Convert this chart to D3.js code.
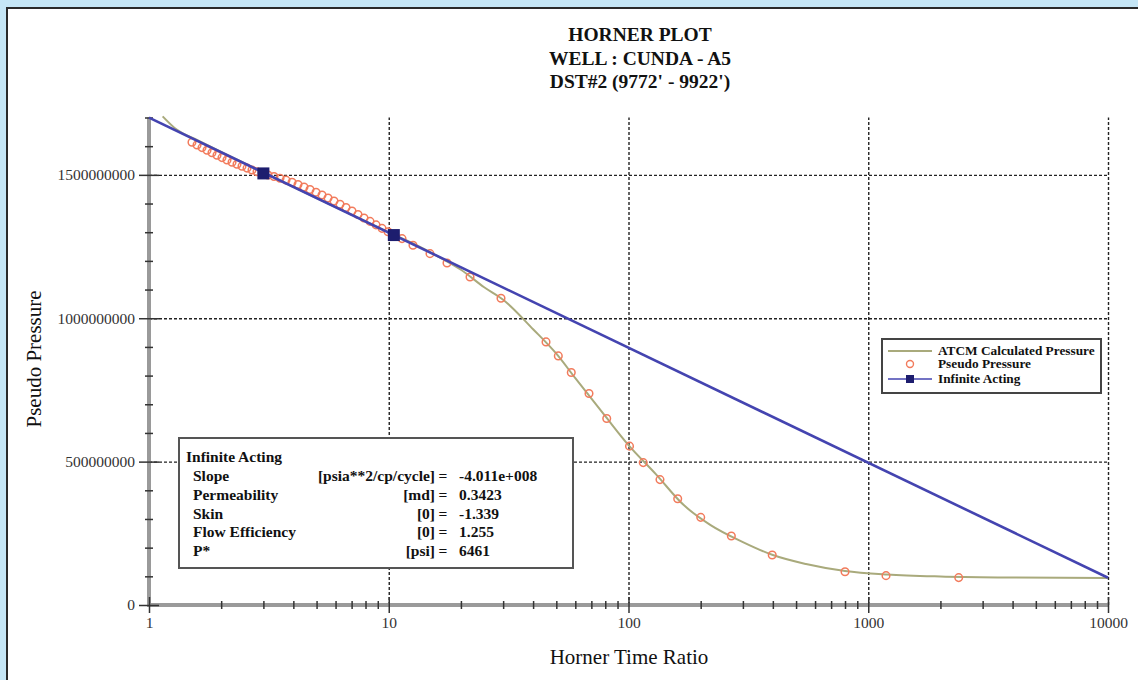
<!DOCTYPE html>
<html>
<head>
<meta charset="utf-8">
<script src="https://cdn.jsdelivr.net/npm/d3@7"></script>
<style>
body { margin: 0; background: #c5e6f6; }
text { font-family: "Liberation Serif", "Times New Roman", serif; }
</style>
</head>
<body>
<div id="chart"></div>
<script>
var svgWidth = 1138;
var svgHeight = 680;

// titles
var titleLines = ["HORNER PLOT", "WELL : CUNDA - A5", "DST#2 (9772' - 9922')"];
var xTitle = "Horner Time Ratio";
var yTitle = "Pseudo Pressure";

// tick labels
var xTickValues = [1, 10, 100, 1000, 10000];
var xTickLabels = ["1", "10", "100", "1000", "10000"];
var yTickValues = [0, 500000000, 1000000000, 1500000000];
var yTickLabels = ["0", "500000000", "1000000000", "1500000000"];

// pseudo pressure (measured points)
var ppRatio = [1.511, 1.586, 1.664, 1.746, 1.831, 1.921, 2.016, 2.115, 2.220, 2.328,
    2.443, 2.564, 2.689, 2.821, 2.960, 3.135, 3.322, 3.519, 3.728, 3.950,
    4.183, 4.432, 4.694, 4.973, 5.268, 5.580, 5.910, 6.262, 6.633, 7.025,
    7.441, 7.885, 8.353, 8.848, 9.372, 9.929, 10.62, 11.36, 12.62, 14.86,
    17.50, 21.83, 29.39, 45.29, 50.96, 57.72, 68.43, 81.13, 100.97, 115.2,
    135.3, 160.4, 200.1, 268.5, 397.6, 800.0, 1186, 2384];
var ppValue = [1.6138e9, 1.6044e9, 1.5950e9, 1.5859e9, 1.5769e9, 1.5685e9, 1.5601e9, 1.5518e9, 1.5441e9, 1.5368e9,
    1.5302e9, 1.5235e9, 1.5169e9, 1.5110e9, 1.5054e9, 1.4996e9, 1.4941e9, 1.4882e9, 1.4817e9, 1.4744e9,
    1.4665e9, 1.4578e9, 1.4488e9, 1.4395e9, 1.4295e9, 1.4194e9, 1.4087e9, 1.3976e9, 1.3862e9, 1.3741e9,
    1.3619e9, 1.3498e9, 1.3377e9, 1.3256e9, 1.3134e9, 1.3017e9, 1.2882e9, 1.2777e9, 1.2543e9, 1.2254e9,
    1.1927e9, 1.1439e9, 1.0697e9, 9.174e8, 8.686e8, 8.108e8, 7.376e8, 6.505e8, 5.540e8, 4.965e8,
    4.373e8, 3.704e8, 3.056e8, 2.404e8, 1.742e8, 1.157e8, 1.024e8, 9.547e7];

// ATCM calculated pressure (model curve)
var calcRatio = [1.14, 1.3, 1.6, 2, 3, 5, 7, 10, 13, 16, 20, 25, 30, 40, 50, 60, 80, 100,
    130, 170, 220, 300, 400, 550, 800, 1200, 2000, 4000, 10000];
var calcValue = [1.7038e9, 1.6585e9, 1.6202e9, 1.5801e9, 1.5087e9, 1.4188e9, 1.3613e9, 1.2996e9, 1.2561e9, 1.2160e9,
    1.1690e9, 1.1080e9, 1.0645e9, 9.617e8, 8.763e8, 7.909e8, 6.585e8, 5.575e8,
    4.564e8, 3.484e8, 2.787e8, 2.195e8, 1.742e8, 1.429e8, 1.185e8, 1.063e8, 9.93e7, 9.58e7, 9.41e7];

// infinite acting straight line and its two picked points
var iaRatio = [1, 10000];
var iaValue = [1.6995e9, 9.51e7];
var iaPickRatio = [3.0, 10.5];
var iaPickValue = [1.505e9, 1.290e9];

// legend + results box
var legendNames = ["ATCM Calculated Pressure", "Pseudo Pressure", "Infinite Acting"];
var infoTitle = "Infinite Acting";
var infoLabels = ["Slope", "Permeability", "Skin", "Flow Efficiency", "P*"];
var infoUnits = ["[psia**2/cp/cycle]", "[md]", "[0]", "[0]", "[psi]"];
var infoValues = ["-4.011e+008", "0.3423", "-1.339", "1.255", "6461"];

var plot = { left: 149, right: 1108, top: 117.5, bottom: 605 };

var svg = d3.select("#chart")
    .append("svg")
    .attr("width", svgWidth)
    .attr("height", svgHeight);

// white panel
svg.append("rect")
    .attr("x", 7).attr("y", 8)
    .attr("width", 1145).attr("height", 690)
    .attr("fill", "#fff")
    .attr("stroke", "#2a2a2a")
    .attr("stroke-width", 2);

var xScale = d3.scaleLog()
    .domain([1, 10000])
    .range([plot.left, plot.right]);

var yScale = d3.scaleLinear()
    .domain([0, 1.7e9])
    .range([plot.bottom, plot.top]);

// titles
svg.selectAll(".title")
    .data(titleLines)
    .enter()
    .append("text")
    .attr("x", 640)
    .attr("y", (d, i) => 41 + i * 23.5)
    .attr("text-anchor", "middle")
    .attr("font-size", "19.5px")
    .attr("font-weight", "bold")
    .attr("fill", "#111")
    .text(d => d);

// grid lines
var gridX = svg.append("g")
    .attr("transform", `translate(0,${plot.bottom})`)
    .call(d3.axisBottom(xScale).tickValues([10, 100, 1000, 10000])
        .tickSize(-(plot.bottom - plot.top)).tickFormat(""));
var gridY = svg.append("g")
    .attr("transform", `translate(${plot.left},0)`)
    .call(d3.axisLeft(yScale).tickValues([500000000, 1000000000, 1500000000])
        .tickSize(-(plot.right - plot.left)).tickFormat(""));
[gridX, gridY].forEach(function(g) {
    g.select(".domain").remove();
    g.selectAll("line")
        .attr("stroke", "#222")
        .attr("stroke-width", 1.4)
        .attr("stroke-dasharray", "3,2");
});

// axis lines (thick grey)
svg.append("line")
    .attr("x1", plot.left).attr("x2", plot.left)
    .attr("y1", plot.top).attr("y2", plot.bottom + 2)
    .attr("stroke", "#9a9a9a").attr("stroke-width", 4);
svg.append("line")
    .attr("x1", plot.left - 2).attr("x2", plot.right)
    .attr("y1", plot.bottom).attr("y2", plot.bottom)
    .attr("stroke", "#9a9a9a").attr("stroke-width", 4);

// tick marks crossing the axes
function tickGroup(axis, transform, values, size) {
    var g = svg.append("g")
        .attr("transform", transform)
        .call(axis.tickValues(values).tickSize(size).tickFormat(""));
    g.select(".domain").remove();
    g.selectAll("line").attr("stroke", "#333").attr("stroke-width", 1.5);
}
var xMinor = xScale.ticks().filter(v => xTickValues.indexOf(v) < 0);
var yMinor = yScale.ticks(17).filter(v => yTickValues.indexOf(v) < 0);
tickGroup(d3.axisBottom(xScale), `translate(0,${plot.bottom - 8})`, xTickValues, 16);
tickGroup(d3.axisBottom(xScale), `translate(0,${plot.bottom - 4})`, xMinor, 8);
tickGroup(d3.axisLeft(yScale), `translate(${plot.left + 10},0)`, yTickValues, 20);
tickGroup(d3.axisLeft(yScale), `translate(${plot.left + 4},0)`, yMinor, 8);

// tick labels
var xLab = svg.append("g")
    .attr("transform", `translate(0,${plot.bottom})`)
    .call(d3.axisBottom(xScale).tickValues(xTickValues).tickSize(0).tickPadding(12)
        .tickFormat((d, i) => xTickLabels[i]));
var yLab = svg.append("g")
    .attr("transform", `translate(${plot.left},0)`)
    .call(d3.axisLeft(yScale).tickValues(yTickValues).tickSize(0).tickPadding(14)
        .tickFormat((d, i) => yTickLabels[i]));
[xLab, yLab].forEach(function(g) {
    g.select(".domain").remove();
    g.selectAll("text")
        .attr("font-family", "'Liberation Serif', serif")
        .attr("font-size", "15.5px")
        .attr("fill", "#333");
});

// axis titles
svg.append("text")
    .attr("x", 629).attr("y", 664)
    .attr("text-anchor", "middle")
    .attr("font-size", "21px")
    .attr("fill", "#111")
    .text(xTitle);
svg.append("text")
    .attr("transform", "translate(41,359) rotate(-90)")
    .attr("text-anchor", "middle")
    .attr("font-size", "21px")
    .attr("fill", "#111")
    .text(yTitle);

// ATCM calculated pressure
var calcLine = d3.line()
    .x((d, i) => xScale(calcRatio[i]))
    .y((d, i) => yScale(calcValue[i]))
    .curve(d3.curveMonotoneX);
svg.append("path")
    .attr("d", calcLine(calcRatio))
    .attr("fill", "none")
    .attr("stroke", "#a9aa7c")
    .attr("stroke-width", 2);

// pseudo pressure points
svg.selectAll(".pp")
    .data(ppRatio)
    .enter()
    .append("circle")
    .attr("cx", d => xScale(d))
    .attr("cy", (d, i) => yScale(ppValue[i]))
    .attr("r", 3.8)
    .attr("fill", "none")
    .attr("stroke", "#f27b5c")
    .attr("stroke-width", 1.5);

// infinite acting line
var iaLine = d3.line()
    .x((d, i) => xScale(iaRatio[i]))
    .y((d, i) => yScale(iaValue[i]));
svg.append("path")
    .attr("d", iaLine(iaRatio))
    .attr("fill", "none")
    .attr("stroke", "#4444b0")
    .attr("stroke-width", 2.6);

svg.selectAll(".pick")
    .data(iaPickRatio)
    .enter()
    .append("rect")
    .attr("x", d => xScale(d) - 6)
    .attr("y", (d, i) => yScale(iaPickValue[i]) - 6)
    .attr("width", 12).attr("height", 12)
    .attr("fill", "#1d1d6e");

// legend
var legend = svg.append("g").attr("transform", "translate(882,339)");
legend.append("rect")
    .attr("width", 219).attr("height", 54)
    .attr("fill", "#fff")
    .attr("stroke", "#444").attr("stroke-width", 2);
var legY = [12, 25, 40];
legend.append("line")
    .attr("x1", 6).attr("x2", 50).attr("y1", legY[0]).attr("y2", legY[0])
    .attr("stroke", "#a9aa7c").attr("stroke-width", 1.8);
legend.append("circle")
    .attr("cx", 28).attr("cy", legY[1]).attr("r", 3.5)
    .attr("fill", "none").attr("stroke", "#f27b5c").attr("stroke-width", 1.4);
legend.append("line")
    .attr("x1", 6).attr("x2", 50).attr("y1", legY[2]).attr("y2", legY[2])
    .attr("stroke", "#4444b0").attr("stroke-width", 1.5);
legend.append("rect")
    .attr("x", 24).attr("y", legY[2] - 4).attr("width", 8).attr("height", 8)
    .attr("fill", "#1d1d6e");
legend.selectAll(".lt")
    .data(legendNames)
    .enter()
    .append("text")
    .attr("x", 56)
    .attr("y", (d, i) => legY[i] + 4)
    .attr("font-size", "13.3px")
    .attr("font-weight", "bold")
    .attr("fill", "#111")
    .text(d => d);

// results box
var info = svg.append("g").attr("transform", "translate(179,438)");
info.append("rect")
    .attr("width", 394).attr("height", 130)
    .attr("fill", "#fff")
    .attr("stroke", "#555").attr("stroke-width", 2);
info.append("text")
    .attr("x", 7).attr("y", 24)
    .attr("font-size", "15.5px").attr("font-weight", "bold").attr("fill", "#111")
    .text(infoTitle);
infoLabels.forEach(function(lab, i) {
    var yy = 43 + i * 18.8;
    info.append("text")
        .attr("x", 14).attr("y", yy)
        .attr("font-size", "15.5px").attr("font-weight", "bold").attr("fill", "#111")
        .text(lab);
    info.append("text")
        .attr("x", 256).attr("y", yy)
        .attr("text-anchor", "end")
        .attr("font-size", "15.5px").attr("font-weight", "bold").attr("fill", "#111")
        .text(infoUnits[i]);
    info.append("text")
        .attr("x", 264).attr("y", yy)
        .attr("text-anchor", "middle")
        .attr("font-size", "15.5px").attr("font-weight", "bold").attr("fill", "#111")
        .text("=");
    info.append("text")
        .attr("x", 280).attr("y", yy)
        .attr("font-size", "15.5px").attr("font-weight", "bold").attr("fill", "#111")
        .text(infoValues[i]);
});
</script>
</body>
</html>
